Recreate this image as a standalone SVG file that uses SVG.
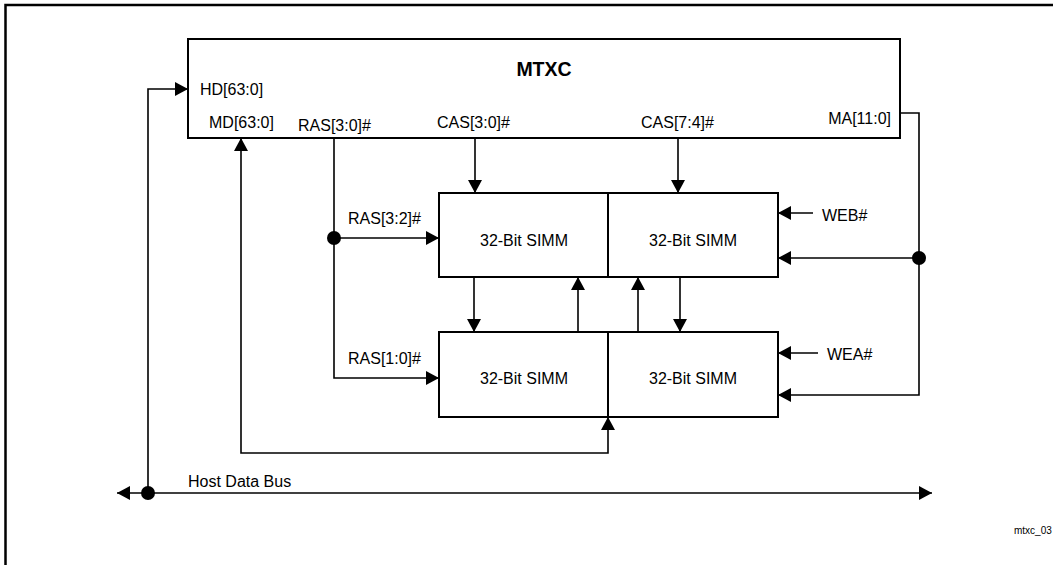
<svg xmlns="http://www.w3.org/2000/svg" width="1053" height="565" viewBox="0 0 1053 565">
  <style>
    text { font-family: "Liberation Sans", Arial, sans-serif; font-size: 16px; fill: #000; }
    .title { font-weight: bold; font-size: 19.5px; }
    .small { font-size: 10px; }
    .box { fill: #fff; stroke: #000; stroke-width: 2; }
    .wire { fill: none; stroke: #000; stroke-width: 1.6; }
    .arr { marker-end: url(#ah); }
    .dot { fill: #000; }
  </style>
  <defs>
    <marker id="ah" viewBox="0 0 13 14" refX="13" refY="7" markerWidth="13" markerHeight="14" markerUnits="userSpaceOnUse" orient="auto-start-reverse">
      <path d="M0,0 L13,7 L0,14 z" fill="#000"/>
    </marker>
  </defs>
  <rect width="1053" height="565" fill="#fff"/>
  <path d="M5.5,565 V5 H1053" fill="none" stroke="#000" stroke-width="2.5"/>

  <g id="mtxc">
    <rect class="box" x="188" y="39" width="712" height="99"/>
    <text class="title" x="544" y="76" text-anchor="middle">MTXC</text>
    <text x="200" y="95">HD[63:0]</text>
    <text x="209" y="128">MD[63:0]</text>
    <text x="298" y="131">RAS[3:0]#</text>
    <text x="437" y="128">CAS[3:0]#</text>
    <text x="641" y="128">CAS[7:4]#</text>
    <text x="891" y="124" text-anchor="end">MA[11:0]</text>
  </g>

  <g id="simm-top-left">
    <rect class="box" x="439" y="193" width="169" height="84"/>
    <text x="524" y="246" text-anchor="middle">32-Bit SIMM</text>
  </g>
  <g id="simm-top-right">
    <rect class="box" x="608" y="193" width="170" height="84"/>
    <text x="693" y="246" text-anchor="middle">32-Bit SIMM</text>
  </g>
  <g id="simm-bottom-left">
    <rect class="box" x="439" y="332" width="169" height="85"/>
    <text x="524" y="384" text-anchor="middle">32-Bit SIMM</text>
  </g>
  <g id="simm-bottom-right">
    <rect class="box" x="608" y="332" width="170" height="85"/>
    <text x="693" y="384" text-anchor="middle">32-Bit SIMM</text>
  </g>

  <g id="connectors">
    <path class="wire arr" d="M148,493 V89 H188"/>
    <path class="wire" d="M241,138 V453 H608 V417" marker-start="url(#ah)" marker-end="url(#ah)"/>
    <path class="wire arr" d="M334,138 V378 H439"/>
    <path class="wire arr" d="M334,238 H439"/>
    <circle class="dot" cx="334" cy="238" r="7"/>
    <path class="wire arr" d="M475,138 V193"/>
    <path class="wire arr" d="M678,138 V193"/>
    <path class="wire arr" d="M474,277 V332"/>
    <path class="wire arr" d="M578,332 V277"/>
    <path class="wire arr" d="M638,332 V277"/>
    <path class="wire arr" d="M680,277 V332"/>
    <path class="wire arr" d="M900,113 H919 V395 H778"/>
    <path class="wire arr" d="M919,258 H778"/>
    <circle class="dot" cx="919" cy="258" r="7"/>
    <path class="wire arr" d="M813,213 H778"/>
    <path class="wire arr" d="M818,353 H778"/>
    <path class="wire" d="M117,493 H932" marker-start="url(#ah)" marker-end="url(#ah)"/>
    <circle class="dot" cx="148" cy="493" r="7"/>
    <text x="348" y="224">RAS[3:2]#</text>
    <text x="348" y="364">RAS[1:0]#</text>
    <text x="822" y="221">WEB#</text>
    <text x="827" y="360">WEA#</text>
    <text x="188" y="487">Host Data Bus</text>
  </g>
  <text class="small" x="1014" y="534">mtxc_03</text>
</svg>
